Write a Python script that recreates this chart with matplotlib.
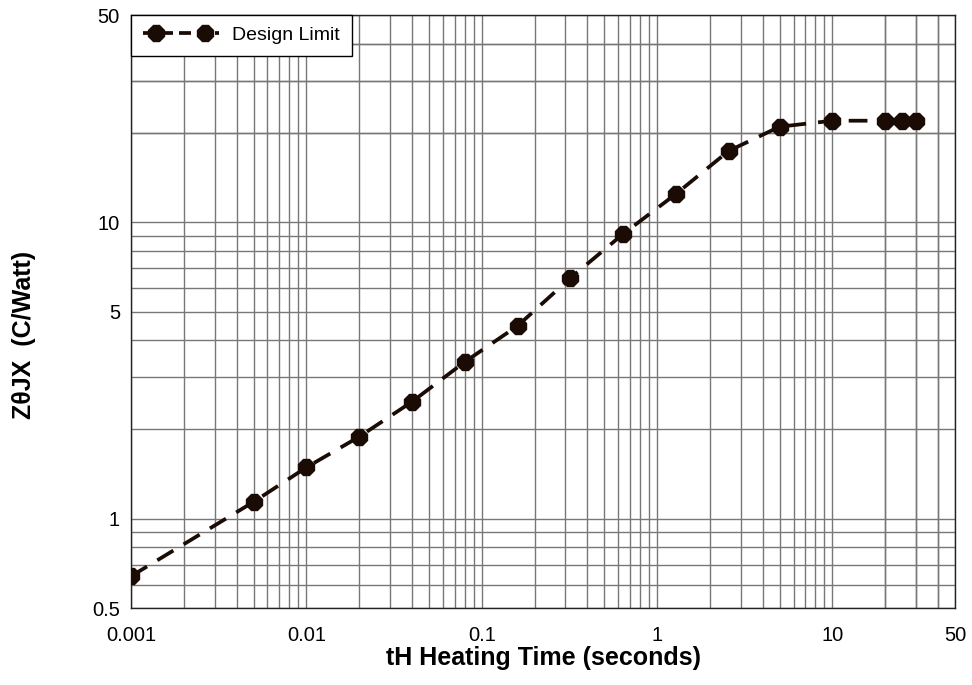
import matplotlib
matplotlib.use("Agg")
import matplotlib.pyplot as plt
from matplotlib.ticker import FixedLocator, FixedFormatter, NullFormatter
from matplotlib.legend_handler import HandlerLine2D

plt.rcParams['font.family'] = ['Liberation Sans', 'DejaVu Sans']

# heating time (s) and thermal impedance (C/W)
heat_time = [0.001, 0.005, 0.01, 0.02, 0.04, 0.08, 0.16, 0.32, 0.64, 1.28, 2.56, 5, 10, 20, 25, 30]
z_theta = [0.64, 1.14, 1.49, 1.89, 2.48, 3.38, 4.47, 6.48, 9.13, 12.45, 17.4, 21.0, 22.0, 22.0, 22.0, 22.0]

x_major = [0.001, 0.01, 0.1, 1, 10, 50]
x_major_lbl = ['0.001', '0.01', '0.1', '1', '10', '50']
y_major = [0.5, 1, 5, 10, 50]
y_major_lbl = ['0.5', '1', '5', '10', '50']

x_minor = [m * 10.0 ** e for e in range(-3, 2) for m in range(1, 10)] + [20, 30, 40]
y_minor = [0.6, 0.7, 0.8, 0.9] + [m * 10.0 ** e for e in range(0, 2) for m in range(1, 10)] + [20, 30, 40]

fig = plt.figure(figsize=(9.72, 6.85), dpi=100)
ax = fig.add_axes([0.1348, 0.1124, 0.8477, 0.8657])
ax.set_xscale('log')
ax.set_yscale('log')
ax.set_xlim(0.001, 50)
ax.set_ylim(0.5, 50)

col = '#1a0c05'
ax.plot(heat_time, z_theta, color=col, lw=2.7, dashes=(5, 3.2),
        marker='8', markersize=13, markerfacecolor=col, markeredgecolor=col,
        zorder=3)

ax.xaxis.set_major_locator(FixedLocator(x_major))
ax.xaxis.set_major_formatter(FixedFormatter(x_major_lbl))
ax.xaxis.set_minor_locator(FixedLocator(x_minor))
ax.xaxis.set_minor_formatter(NullFormatter())
ax.yaxis.set_major_locator(FixedLocator(y_major))
ax.yaxis.set_major_formatter(FixedFormatter(y_major_lbl))
ax.yaxis.set_minor_locator(FixedLocator(y_minor))
ax.yaxis.set_minor_formatter(NullFormatter())

ax.grid(True, which='both', color='#777777', lw=1.0)
ax.tick_params(which='both', length=0, labelsize=14.5)
ax.tick_params(axis='x', pad=13)
ax.tick_params(axis='y', pad=8)
for s in ax.spines.values():
    s.set_linewidth(1.0)
    s.set_color('#222222')

ax.set_xlabel('tH Heating Time (seconds)', fontsize=18, fontweight='bold', labelpad=1)
ax.set_ylabel('Z\u03b8JX  (C/Watt)', fontsize=18, fontweight='bold', labelpad=40)
ax.yaxis.label.set_y(0.46)

# legend: full dashed line with two markers inset
leg_line = plt.Line2D([], [], color=col, lw=2.7, dashes=(3.2, 1.6))
leg_mark = plt.Line2D([], [], color=col, ls='none', marker='8', markersize=13)
leg = ax.legend([(leg_line, leg_mark)], ['Design Limit'], loc='upper left', fontsize=14,
                frameon=True, fancybox=False, borderaxespad=0, handlelength=3.9,
                handletextpad=0.7, borderpad=0.6, numpoints=2,
                handler_map={leg_line: HandlerLine2D(numpoints=1),
                             leg_mark: HandlerLine2D(marker_pad=0.67, numpoints=2)})
leg.get_frame().set_edgecolor('black')
leg.get_frame().set_linewidth(1.0)
leg.get_frame().set_alpha(1)

plt.savefig('out.png', dpi=100)
